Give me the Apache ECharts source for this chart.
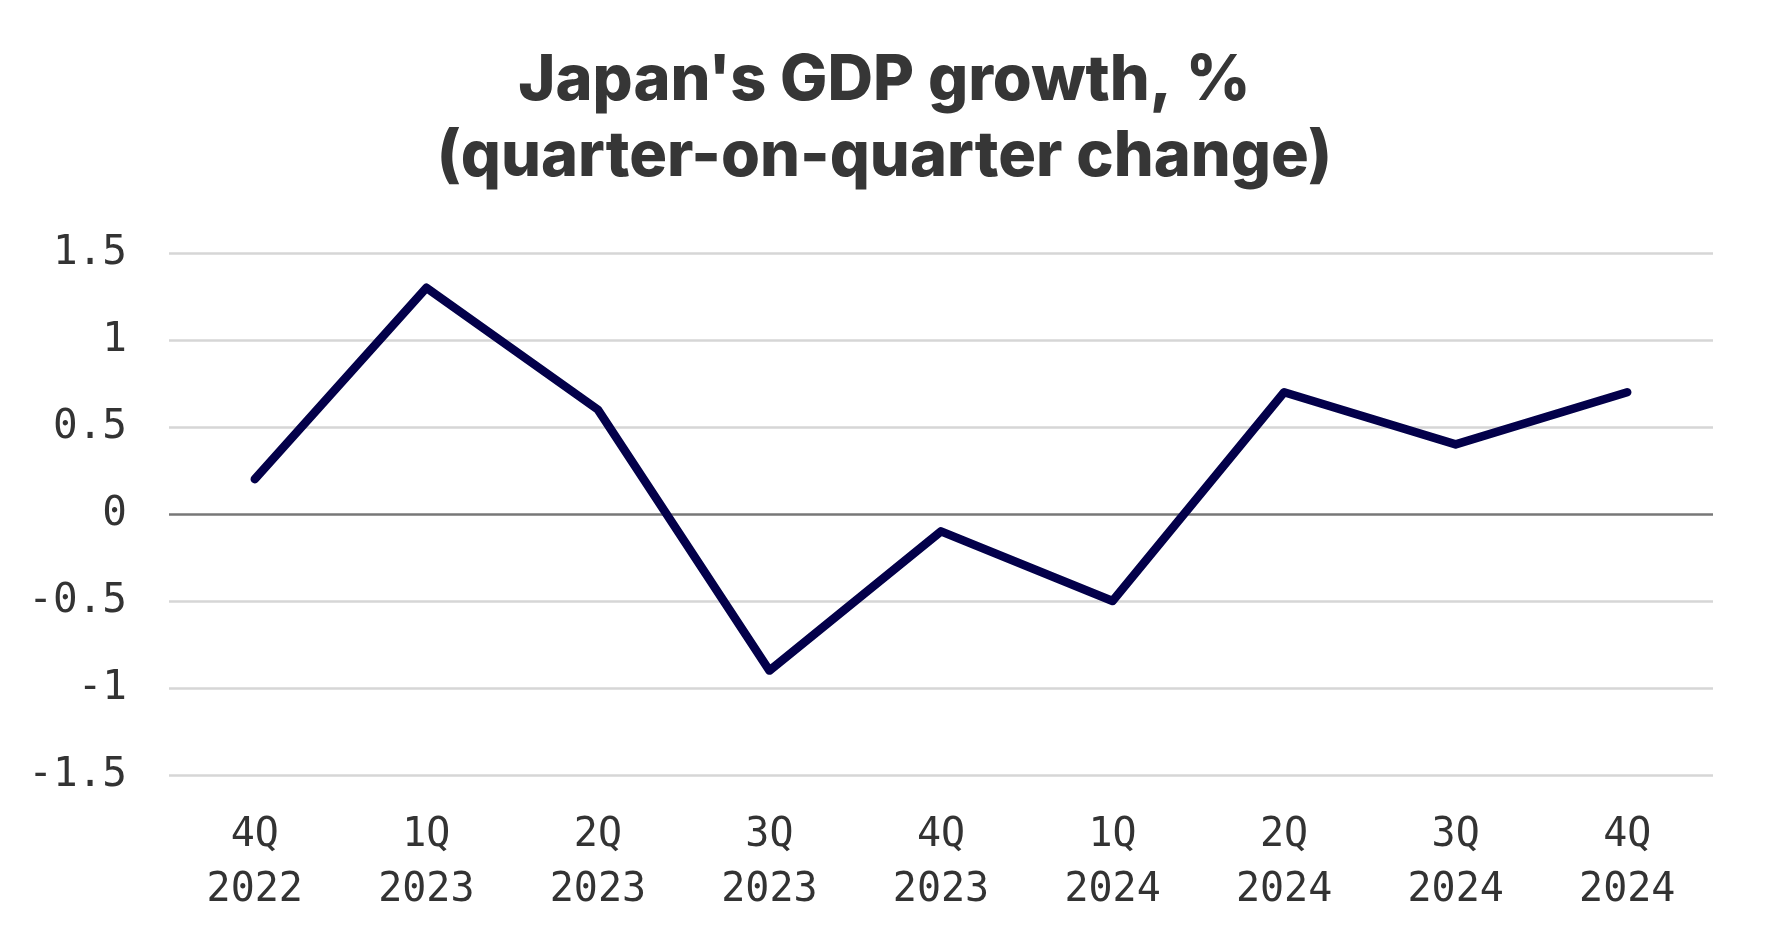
<!DOCTYPE html>
<html>
<head>
<meta charset="utf-8">
<script src="https://cdn.jsdelivr.net/npm/echarts@6/dist/echarts.min.js"></script>
<style>
html,body{margin:0;padding:0;background:#fff;}
#chart{width:1769px;height:948px;}
</style>
</head>
<body>
<div id="chart"></div>
<script>
const quarters = ['4Q','1Q','2Q','3Q','4Q','1Q','2Q','3Q','4Q'];
const years = ['2022','2023','2023','2023','2023','2024','2024','2024','2024'];
const gdpGrowth = [0.2, 1.3, 0.6, -0.9, -0.1, -0.5, 0.7, 0.4, 0.7];
const yTicks = { min: -1.5, max: 1.5, interval: 0.5 };
const titleText = "Japan's GDP growth, %\n(quarter-on-quarter change)";

const categories = quarters.map((q, i) => q + '\n' + years[i]);

const chart = echarts.init(document.getElementById('chart'), null, { renderer: 'canvas' });
const grid = '#d6d6d6';
chart.setOption({
  backgroundColor: '#ffffff',
  animation: false,
  title: {
    text: titleText,
    left: 'center',
    top: 38,
    textStyle: {
      fontFamily: 'Inter',
      fontWeight: 800,
      fontSize: 63,
      lineHeight: 76,
      color: '#363636'
    }
  },
  grid: { left: 169, right: 56, top: 253, bottom: 173 },
  xAxis: {
    type: 'category',
    data: categories,
    boundaryGap: true,
    axisLine: { show: false },
    axisTick: { show: false },
    axisLabel: {
      fontFamily: 'DejaVu Sans Mono',
      fontSize: 40,
      lineHeight: 55,
      color: '#333333',
      margin: 33,
      interval: 0
    }
  },
  yAxis: {
    type: 'value',
    min: yTicks.min,
    max: yTicks.max,
    interval: yTicks.interval,
    axisLine: { show: false },
    axisTick: { show: false },
    axisLabel: {
      fontFamily: 'DejaVu Sans Mono',
      fontSize: 41,
      color: '#333333',
      margin: 42
    },
    splitLine: {
      lineStyle: {
        color: [grid, grid, grid, '#777777', grid, grid, grid],
        width: 2.5
      }
    }
  },
  series: [{
    type: 'line',
    data: gdpGrowth,
    symbol: 'none',
    lineStyle: { color: '#03004a', width: 8.5, cap: 'round', join: 'round' }
  }]
});
</script>
</body>
</html>
